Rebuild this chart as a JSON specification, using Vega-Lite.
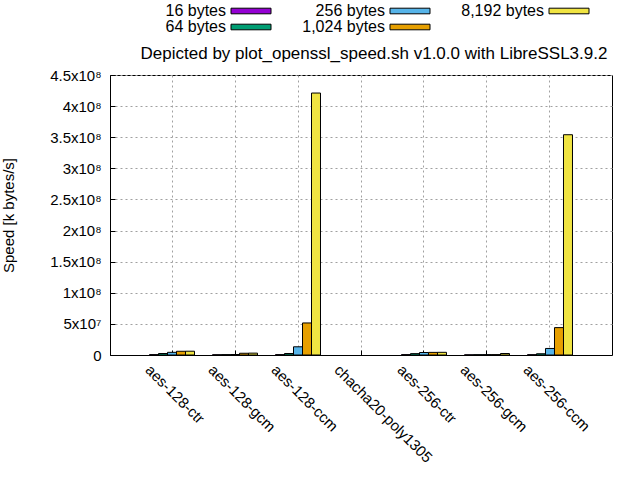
{
  "$schema": "https://vega.github.io/schema/vega-lite/v6.json",
  "width": 502,
  "height": 280,
  "autosize": {"type": "none"},
  "padding": {"left": 110, "top": 75, "right": 28, "bottom": 125},
  "background": "white",
  "title": {
    "text": "Depicted by plot_openssl_speed.sh v1.0.0 with LibreSSL3.9.2",
    "font": "Liberation Sans",
    "fontSize": 17,
    "fontWeight": "normal",
    "color": "black",
    "anchor": "middle",
    "baseline": "alphabetic",
    "offset": 18,
    "dx": 13,
    "dy": 91
  },
  "config": {
    "view": {"stroke": "black", "strokeWidth": 1},
    "font": "Liberation Sans"
  },
  "data": {
    "values": [
      {"cipher": "aes-128-ctr", "size": "16 bytes", "speed": 600000},
      {"cipher": "aes-128-ctr", "size": "64 bytes", "speed": 2400000},
      {"cipher": "aes-128-ctr", "size": "256 bytes", "speed": 4300000},
      {"cipher": "aes-128-ctr", "size": "1,024 bytes", "speed": 6000000},
      {"cipher": "aes-128-ctr", "size": "8,192 bytes", "speed": 6100000},
      {"cipher": "aes-128-gcm", "size": "16 bytes", "speed": 400000},
      {"cipher": "aes-128-gcm", "size": "64 bytes", "speed": 600000},
      {"cipher": "aes-128-gcm", "size": "256 bytes", "speed": 800000},
      {"cipher": "aes-128-gcm", "size": "1,024 bytes", "speed": 2800000},
      {"cipher": "aes-128-gcm", "size": "8,192 bytes", "speed": 3000000},
      {"cipher": "aes-128-ccm", "size": "16 bytes", "speed": 600000},
      {"cipher": "aes-128-ccm", "size": "64 bytes", "speed": 2400000},
      {"cipher": "aes-128-ccm", "size": "256 bytes", "speed": 13200000},
      {"cipher": "aes-128-ccm", "size": "1,024 bytes", "speed": 51500000},
      {"cipher": "aes-128-ccm", "size": "8,192 bytes", "speed": 421000000},
      {"cipher": "chacha20-poly1305", "size": "16 bytes", "speed": null},
      {"cipher": "chacha20-poly1305", "size": "64 bytes", "speed": null},
      {"cipher": "chacha20-poly1305", "size": "256 bytes", "speed": null},
      {"cipher": "chacha20-poly1305", "size": "1,024 bytes", "speed": null},
      {"cipher": "chacha20-poly1305", "size": "8,192 bytes", "speed": null},
      {"cipher": "aes-256-ctr", "size": "16 bytes", "speed": 600000},
      {"cipher": "aes-256-ctr", "size": "64 bytes", "speed": 2200000},
      {"cipher": "aes-256-ctr", "size": "256 bytes", "speed": 4000000},
      {"cipher": "aes-256-ctr", "size": "1,024 bytes", "speed": 4200000},
      {"cipher": "aes-256-ctr", "size": "8,192 bytes", "speed": 4300000},
      {"cipher": "aes-256-gcm", "size": "16 bytes", "speed": 300000},
      {"cipher": "aes-256-gcm", "size": "64 bytes", "speed": 500000},
      {"cipher": "aes-256-gcm", "size": "256 bytes", "speed": 600000},
      {"cipher": "aes-256-gcm", "size": "1,024 bytes", "speed": 600000},
      {"cipher": "aes-256-gcm", "size": "8,192 bytes", "speed": 2400000},
      {"cipher": "aes-256-ccm", "size": "16 bytes", "speed": 500000},
      {"cipher": "aes-256-ccm", "size": "64 bytes", "speed": 2000000},
      {"cipher": "aes-256-ccm", "size": "256 bytes", "speed": 10500000},
      {"cipher": "aes-256-ccm", "size": "1,024 bytes", "speed": 44000000},
      {"cipher": "aes-256-ccm", "size": "8,192 bytes", "speed": 354000000}
    ]
  },
  "mark": {"type": "bar", "stroke": "black", "strokeWidth": 1},
  "encoding": {
    "x": {
      "field": "cipher",
      "type": "nominal",
      "sort": null,
      "scale": {
        "domain": ["aes-128-ctr", "aes-128-gcm", "aes-128-ccm", "chacha20-poly1305", "aes-256-ctr", "aes-256-gcm", "aes-256-ccm"],
        "paddingInner": 0.2857,
        "paddingOuter": 0.627
      },
      "axis": {
        "title": null,
        "labelAngle": 45,
        "labelAlign": "left",
        "labelBaseline": "top",
        "labelFont": "Liberation Sans",
        "labelFontSize": 15,
        "labelColor": "black",
        "labelOffset": -19,
        "labelPadding": 12,
        "ticks": true,
        "tickSize": -5,
        "tickColor": "black",
        "grid": true,
        "gridDash": [2, 3],
        "gridColor": "#a0a0a0",
        "gridOpacity": 1,
        "bandPosition": 0.5,
        "domainColor": "black"
      }
    },
    "xOffset": {
      "field": "size",
      "type": "nominal",
      "scale": {
        "domain": ["16 bytes", "64 bytes", "256 bytes", "1,024 bytes", "8,192 bytes"],
        "paddingInner": 0,
        "paddingOuter": 0
      }
    },
    "y": {
      "field": "speed",
      "type": "quantitative",
      "scale": {"domain": [0, 450000000], "nice": false},
      "axis": {
        "title": "Speed [k bytes/s]",
        "titleFont": "Liberation Sans",
        "titleFontSize": 15,
        "titleFontWeight": "normal",
        "titleColor": "black",
        "titlePadding": 33,
        "values": [0, 50000000, 100000000, 150000000, 200000000, 250000000, 300000000, 350000000, 400000000, 450000000],
        "labelExpr": "datum.value >= 100000000 ? (datum.value / 100000000) + 'x10⁸' : (datum.value > 0 ? (datum.value / 10000000) + 'x10⁷' : '0')",
        "labelFont": "Liberation Sans",
        "labelFontSize": 15,
        "labelColor": "black",
        "labelPadding": 14,
        "ticks": true,
        "tickSize": -5,
        "tickColor": "black",
        "grid": true,
        "gridDash": [2, 3],
        "gridColor": "#a0a0a0",
        "gridOpacity": 1,
        "domainColor": "black"
      }
    },
    "color": {
      "field": "size",
      "type": "nominal",
      "scale": {
        "domain": ["16 bytes", "256 bytes", "8,192 bytes", "64 bytes", "1,024 bytes"],
        "range": ["#9400d3", "#56b4e9", "#f0e442", "#009e73", "#e69f00"]
      },
      "legend": {
        "title": null,
        "orient": "none",
        "legendX": 133,
        "legendY": -72,
        "columns": 3,
        "direction": "horizontal",
        "symbolType": "M-4,-0.56H4V0.56H-4Z",
        "symbolSize": 100,
        "symbolStrokeColor": "black",
        "symbolStrokeWidth": 1,
        "symbolOpacity": 1,
        "labelFont": "Liberation Sans",
        "labelFontSize": 16,
        "labelColor": "black",
        "labelAlign": "right",
        "labelOffset": -33,
        "rowPadding": -3,
        "columnPadding": 29,
        "gridAlign": "all"
      }
    }
  }
}
